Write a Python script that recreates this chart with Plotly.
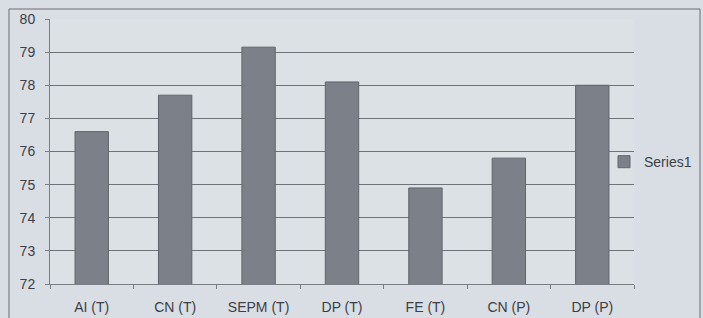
import plotly.graph_objects as go

categories = ["AI (T)", "CN (T)", "SEPM (T)", "DP (T)", "FE (T)", "CN (P)", "DP (P)"]
values = [76.6, 77.7, 79.15, 78.1, 74.9, 75.8, 78.0]
series_name = "Series1"

fig = go.Figure()
fig.add_trace(go.Bar(
    x=categories, y=values, name=series_name,
    marker=dict(color="#7c8089", line=dict(color="#60646c", width=1)),
    showlegend=True,
))

W, H = 703, 318
L, R, T, B = 50, 69, 19, 34
pw = W - L - R
ph = H - T - B

fig.update_layout(
    width=W, height=H,
    margin=dict(l=L, r=R, t=T, b=B, autoexpand=False),
    paper_bgcolor="#d9dee4",
    plot_bgcolor="#dce1e6",
    bargap=0.6,
    font=dict(family="Liberation Sans, Arial, sans-serif", size=14, color="#3c4046"),
    showlegend=True,
    legend=dict(x=(604 - L) / pw, xanchor="left", y=0.46, yanchor="middle",
                bgcolor="rgba(0,0,0,0)", font=dict(size=14, color="#3c4046"),
                itemwidth=30),
    xaxis=dict(showgrid=False, ticks="outside", tickson="boundaries", ticklen=4,
               tickcolor="#7a7e84", showline=True, linecolor="#7a7e84", linewidth=1,
               ticklabelstandoff=10),
    yaxis=dict(range=[72, 80], dtick=1, showgrid=True, gridcolor="#6f7379", gridwidth=1,
               ticks="outside", ticklen=4, tickcolor="#7a7e84", showline=True,
               linecolor="#7a7e84", linewidth=1, zeroline=False,
               ticklabelstandoff=7),
)

# outer chart-area border (photo of Excel chart)
fig.add_shape(type="rect", xref="paper", yref="paper",
              x0=(9 - L) / pw, x1=(700 - L) / pw,
              y0=-(H + 10 - (H - B)) / ph, y1=(H - B - 9) / ph,
              line=dict(color="#6a6e74", width=1), fillcolor="rgba(0,0,0,0)", layer="below")

fig.write_html("out.html", config={"displayModeBar": False},
               post_script="document.body.style.margin='0';")
